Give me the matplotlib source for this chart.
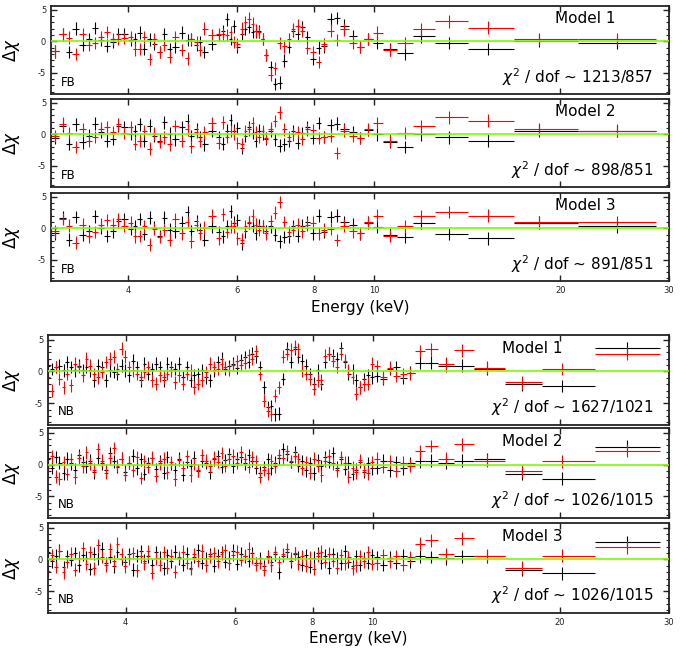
import numpy as np
import matplotlib
matplotlib.use('Agg')
import matplotlib.pyplot as plt
from matplotlib.ticker import MultipleLocator, NullLocator

plt.rcParams['axes.unicode_minus'] = False
plt.rcParams['font.family'] = 'DejaVu Sans'

# ---- FB spectra: bin centres (keV) and residuals (sigma) ----
fb_energy = [3.04, 3.14, 3.21, 3.29, 3.38, 3.46, 3.53, 3.62, 3.70, 3.78, 3.85, 3.94, 4.04, 4.10, 4.18,
             4.25, 4.34, 4.41, 4.50, 4.57, 4.67, 4.76, 4.89, 4.99, 5.06, 5.16, 5.22, 5.30, 5.46,
             5.62, 5.70, 5.77, 5.86, 5.93, 6.01, 6.11, 6.19, 6.28, 6.36, 6.44, 6.51, 6.60, 6.69, 6.80,
             6.92, 7.03, 7.15, 7.28, 7.39, 7.52, 7.65, 7.80, 7.96, 8.13, 8.30, 8.51, 8.70, 8.94, 9.24,
             9.49, 9.78, 10.10,
             10.6, 11.2, 11.9, 13.2, 15.3, 18.5, 24.7]

fb_m1_black = [-1.6, 1.1, -1.7, 2.0, -0.6, 0.4, 2.1, 0.2, -0.7, -0.1, 1.2, 1.2, 0.2, 0.3, 1.4,
               -1.2, 0.3, -0.4, -1.7, 1.1, -1.2, -0.9, 1.4, 0.2, 0.3, -0.6, -0.1, -1.7, -0.4,
               1.0, 1.6, 3.5, 0.4, 2.4, -0.9, 1.2, 2.0, 2.3, 1.5, 1.6, 1.6, 0.4, -2.2, -4.1,
               -6.8, -6.6, -3.1, -0.9, 1.7, 1.2, 2.3, 0.7, -2.8, -1.0, -0.8, 3.5, 3.7, 2.5, 0.8,
               -0.9, 0.4, -0.2,
               -1.3, -1.9, 0.8, -0.3, -1.2, 0.1, -0.2]
fb_m1_red = [-1.6, 1.1, 0.6, -2.0, 1.2, -0.6, -0.3, 0.7, 1.5, 0.4, 0.4, 0.5, 0.7, -1.3, -1.2,
             0.7, -2.8, 0.3, -1.7, -0.6, -2.5, 0.7, -1.4, -2.7, 0.4, -0.1, -1.4, 2.0, 1.0,
             1.2, 1.1, 1.0, 1.5, -0.1, -0.4, 2.0, 3.1, 3.6, 2.8, 1.7, 1.5, 0.4, -2.2, -5.4,
             -4.3, -0.3, -0.8, 0.3, 1.9, 2.5, 1.7, -1.1, -1.7, -3.3, -0.5, 1.7, 0.2, 1.9, -0.2,
             -0.9, 0.4, 1.4,
             -1.4, -0.3, 1.9, 3.2, 2.2, 0.4, 0.4]

fb_m2_black = [-0.6, 1.4, -1.5, 1.6, -1.3, -0.2, 1.7, 0.4, -1.0, -0.7, 1.3, 1.2, 0.1, 0.5, 1.6,
               -1.1, 1.4, -0.2, -1.0, 1.9, 0.1, -0.8, 1.1, 2.2, -0.3, 0.8, -0.5, -1.6, 0.5,
               -0.4, -1.5, 0.6, 2.3, 0.6, 1.0, -2.2, -0.3, 1.2, 0.2, -1.0, 0.6, 0.1, -0.7, 0.5,
               -0.8, -1.8, -1.6, -1.1, 0.5, -1.4, 0.2, 1.2, -0.6, 1.8, -0.4, 1.5, 1.7, 0.8, 0.4,
               -0.6, 0.7, 0.0,
               -1.2, -2.0, 0.0, -0.5, -1.0, 0.6, 0.5]
fb_m2_red = [-0.3, 1.7, 0.2, -2.0, 0.8, -1.1, -0.4, 0.9, 1.1, 0.4, 1.6, 0.2, 1.1, -1.5, -1.0,
             0.5, -2.3, 0.1, -1.2, -0.5, -1.6, 1.3, -1.0, 0.8, -1.9, 0.4, -1.0, 0.3, 1.8,
             -1.4, 1.9, -0.4, 0.5, 0.1, -1.4, -1.6, 0.5, 0.8, 1.8, 0.4, -0.4, 0.5, -0.6, 0.9,
             2.1, 3.5, 0.8, -0.4, 0.0, 0.4, -0.7, 0.8, 0.7, -0.6, -0.4, -0.3, -3.0, 0.6, -0.3,
             -0.6, 0.8, 1.8,
             -1.0, 0.2, 1.3, 2.7, 2.2, 0.8, 0.6]

fb_m3_black = [-0.8, 1.7, -1.8, 1.8, -1.0, -0.5, 1.9, 0.1, -1.2, -0.5, 1.1, 1.5, -0.1, 0.3, 1.5,
               -0.9, 1.7, 0.1, -1.2, 1.7, -0.2, -0.5, 0.9, 2.6, -0.5, 1.1, -0.2, -1.8, 0.3,
               -0.6, -1.3, 0.3, 2.7, 0.9, 1.3, -2.4, -0.5, 0.9, 0.4, -0.8, 0.4, 0.3, -0.5, 0.3,
               -1.0, -2.1, -1.4, -1.3, 0.3, -1.2, 0.4, 1.0, -0.8, 2.0, -0.6, 1.8, 2.0, 1.0, 0.6,
               -0.8, 0.9, 0.2,
               -1.0, -1.4, 0.9, -0.9, -1.6, 0.9, 0.3]
fb_m3_red = [-0.5, 1.5, 0.4, -2.3, 0.6, -1.3, -0.6, 0.6, 1.3, 0.6, 1.4, 0.4, 0.9, -1.3, -1.2,
             0.3, -2.6, -0.1, -1.4, -0.3, -1.8, 1.5, -0.8, 1.0, -2.1, 0.6, -0.8, 0.1, 2.0,
             -1.6, 2.2, -0.6, 0.3, 0.3, -1.6, -1.8, 0.3, 1.0, 2.0, 0.6, -0.2, 0.3, -0.8, 1.1,
             2.5, 4.2, 1.0, -0.6, -0.2, 0.6, -0.5, 0.6, 0.9, -0.8, -0.2, -0.1, -1.9, 0.4, -0.5,
             -0.8, 1.0, 2.0,
             -1.2, 0.3, 1.9, 2.6, 2.0, 1.0, 1.0]

# ---- NB spectra ----
nb_energy = [3.00, 3.04, 3.09, 3.13, 3.18, 3.22, 3.27, 3.32, 3.36, 3.41, 3.46, 3.51, 3.56, 3.61,
             3.66, 3.72, 3.77, 3.83, 3.88, 3.94, 3.99, 4.05, 4.11, 4.17, 4.23, 4.29, 4.35, 4.41,
             4.48, 4.54, 4.61, 4.67, 4.74, 4.81, 4.88, 4.95, 5.02, 5.09, 5.16, 5.24, 5.31, 5.39,
             5.47, 5.55, 5.63, 5.71, 5.79, 5.87, 5.96, 6.04, 6.13, 6.22, 6.31, 6.40, 6.49, 6.58,
             6.68, 6.77, 6.87, 6.97, 7.07, 7.17, 7.28, 7.38, 7.49, 7.59, 7.70, 7.81, 7.93, 8.04,
             8.16, 8.27, 8.39, 8.51, 8.64, 8.76, 8.89, 9.01, 9.14, 9.28, 9.41, 9.55, 9.68, 9.82,
             9.97,
             10.15, 10.4, 10.65, 10.9, 11.2, 11.5, 11.9, 12.4, 13.1, 13.9, 15.3, 17.4, 20.2, 25.7]

nb_m1_black = [0.9, 0.4, 0.7, 0.9, 0.2, 1.5, 0.7, 0.2, 0.9, 0.2,
               0.7, 0.2, -1.4, 0.9, 0.7, -1.4, 0.2, -0.1, -0.4, 0.9,
               0.2, -0.6, 1.7, 0.7, -1.4, 1.2, -0.4, 0.4, 1.2, 0.7,
               -1.4, 1.2, 0.7, 0.4, 1.2, -0.9, 0.7, -1.4, -0.6, -0.4,
               0.2, -0.9, -1.4, 0.2, 1.5, 2.0, 0.4, 0.8, 1.2, 0.6,
               1.8, 2.2, 1.5, 2.8, 2.4,
               0.7, -2.5, -5.6, -5.4, -6.7, -6.6, -1.2, 3.6, 1.5, 3.6,
               2.3, 1.7, 0.9, -0.4, -1.9, 0.2, -1.9, 1.5, 2.8, 2.5,
               2.0, 3.7, 1.5, -0.4, 0.2, -1.4, -2.5, -1.2, -0.6, -0.9,
               -0.7, -1.2, 0.4, 0.7, -1.0, -0.2, 1.4, 1.4, 0.9, 0.9, 0.4, -2.0, -2.3, 3.7]
nb_m1_red = [-0.9, -3.0, 0.7, -1.2, -2.5, -0.4, -2.2, 1.2, 0.7, -0.6,
             2.0, 0.9, -0.4, -0.9, -0.1, 1.5, 2.0, 2.3, 0.4, 3.6,
             2.3, 0.7, 0.2, -0.4, -0.9, -0.1, 0.7, -1.4, -1.9, -0.6,
             -0.9, -0.4, 0.2, -1.7, -0.6, -1.9, -0.4, 0.2, -2.5, -1.9,
             -1.4, -0.1, 1.2, 0.7, 0.4, 1.2, 0.7, 0.3, 1.0, 1.6,
             1.0, 1.4, 2.6, 2.0, 3.2,
             -0.4, -4.6, -6.2, -6.7, -3.8, -2.5, 2.3, 2.8, 3.4, 3.9,
             3.5, 0.2, -0.4, -1.2, -2.7, -1.4, -1.4, 2.5, 2.8, 1.7,
             0.7, 2.8, 1.7, 0.2, -0.9, -3.5, -2.5, -2.0, -1.9, 1.2,
             0.8, -0.9, 0.6, -0.7, -0.4, -0.3, 3.2, 3.5, 1.2, 3.3, 0.6, -1.7, 0.4, 2.8]

nb_m2_black = [0.8, -0.5, 1.2, 0.3, -1.4, 0.9, 0.2, -0.8, 1.5, 0.4, -0.3,
               0.6, -1.2, 1.1, 0.2, -0.9, 1.8, 0.5, -0.4, 0.9, -1.1, 0.3,
               1.4, -0.6, 0.8, -1.5, 0.2, 1.0, -0.7, 0.5, -1.3, 1.2, 0.1,
               -0.8, 0.9, -1.6, 0.4, -0.2, 1.1, -1.0, 0.6, 0.3, -1.2, 0.8,
               1.3, -0.4, 0.7, 1.6, -0.3, 0.9, 1.2, 0.2, 1.5, 0.6, -0.5,
               -1.3, -0.4, 0.8, -0.6, 0.3, 1.0, 2.4, 1.6, 0.4, 1.9, -0.2,
               0.5, -0.9, 0.2, -1.4, 0.7, -0.3, 1.2, 0.4, 1.8, -0.5, 0.9,
               -0.7, 0.3, -1.5, -0.8, 0.4, -1.1, 0.2, -0.6,
               -0.5, 0.6, -0.9, 0.4, -0.6, 0.2, 0.5, 0.6, 0.3, 0.6, 0.8, -1.5, -2.2, 2.8]
nb_m2_red = [-0.6, 1.3, -1.9, -2.2, 0.4, -1.5, 0.8, -2.0, 1.1, -0.3, 1.9,
             0.2, -0.8, 2.4, 0.6, -1.3, 1.0, 2.6, -0.2, 0.9, -1.6, 0.3,
             -0.9, 1.2, -2.1, 0.5, -0.4, 1.1, -1.8, 0.2, 0.9, -1.2, 0.4,
             -2.3, 0.7, -0.5, 1.3, -1.7, 0.1, -0.9, 1.5, 0.6, -0.3, 1.1,
             0.4, 1.8, -0.2, 0.9, 1.4, 0.3, 1.9, 0.8, -0.4, 1.2, 0.5,
             -1.9, -0.8, -1.4, 0.6, -0.3, 1.5, 1.0, 2.1, 0.5, 1.3, 0.8,
             -0.6, 0.4, -1.3, 0.9, -0.2, -1.7, 0.6, 1.4, 0.2, -0.9, 1.2,
             0.3, -1.9, -0.5, -1.2, 0.7, -0.8, -1.4, 0.4,
             0.9, -0.4, 0.5, -1.0, 0.3, -0.2, 2.1, 2.9, 0.9, 3.2, 0.6, -1.0, 0.5, 2.2]

nb_m3_black = [1.1, -0.3, 0.6, 1.4, -1.2, 0.5, -0.1, 1.0, -0.9, 0.7, 0.3,
               -1.5, 0.9, 0.2, 1.7, -0.6, 0.4, -1.1, 1.2, 0.1, -0.4, 0.8,
               -1.6, 0.6, 1.3, -0.2, 0.5, -0.9, 1.1, 0.3, -1.4, 0.7, -0.3,
               1.2, 0.2, -0.8, 0.9, -1.3, 0.4, 1.5, -0.5, 0.2, 0.8, -1.0,
               0.6, 1.1, -0.4, 0.3, 1.4, -0.7, 0.9, 0.5, -0.2, 1.0, -0.6,
               0.2, -1.1, 0.5, -0.4, 0.8, -2.0, 0.6, 1.2, -0.3, 0.9, 0.4,
               -0.8, 0.7, -1.2, 0.3, 1.0, -0.5, 0.6, -1.3, 0.8, 0.2, -0.6,
               1.3, -0.4, -1.1, 0.5, -0.8, 0.2, -0.5, 0.7,
               0.4, -0.8, 0.3, -0.5, 0.6, -0.3, 0.5, 0.4, 0.2, 0.5, 0.5, -1.6, -2.2, 2.7]
nb_m3_red = [-1.8, 0.7, -1.2, 1.3, -2.0, -0.4, 0.9, -1.6, 0.3, 1.8, -0.7,
             1.1, -1.4, 2.2, 0.4, -0.9, 1.6, -0.3, 2.5, 0.8, -1.1, 0.2,
             1.0, -1.7, 0.5, -0.6, 1.3, -2.1, 0.2, -0.8, 1.1, -1.3, 0.6,
             -1.9, 0.4, 1.2, -0.5, -1.5, 0.8, -0.2, 1.4, -0.9, 0.5, 1.0,
             -0.3, 0.9, 1.5, -0.6, 0.7, 1.2, -0.1, 0.6, 1.7, 0.3, -0.8,
             -0.5, -1.6, 0.4, -0.9, 1.1, -0.4, 0.8, 1.6, 0.2, 1.0, -0.7,
             0.5, -1.0, 0.3, -1.5, 0.6, 1.2, -0.4, 0.9, -0.2, -1.3, 0.7,
             -0.6, 0.4, -1.4, -0.9, 0.5, -0.3, 1.1, -0.7,
             -0.6, 0.7, -0.3, 0.5, -0.8, 0.4, 2.5, 3.0, 0.8, 3.3, 0.6, -1.3, 0.6, 1.9]

fb_chi = ['1213/857', '898/851', '891/851']
nb_chi = ['1627/1021', '1026/1015', '1026/1015']
xtick_vals = [4, 6, 8, 10, 20, 30]


def half_bins(e):
    # bin half widths from geometric mid points between neighbouring bins
    e = np.asarray(e, dtype=float)
    mid = np.sqrt(e[:-1] * e[1:])
    lo = np.concatenate([[e[0] ** 2 / mid[0]], mid])
    hi = np.concatenate([mid, [e[-1] ** 2 / mid[-1]]])
    return np.vstack([e - lo, hi - e])


def panel(fig, rect, energy, black, red, model, chi, tag, tag_y, model_x, chi_y, bottom):
    ax = fig.add_axes(rect)
    xerr = half_bins(energy)
    ax.errorbar(energy, black, yerr=1, xerr=xerr, fmt='none', ecolor='black', elinewidth=0.8)
    ax.errorbar(energy, red, yerr=1, xerr=xerr, fmt='none', ecolor='red', elinewidth=0.8)
    ax.axhline(0, color='#7cfc00', lw=1.2, zorder=5)

    ax.set_xscale('log')
    ax.set(xlim=(3, 30), ylim=(-8.4, 5.7))
    ax.set_xticks(xtick_vals)
    ax.xaxis.set_minor_locator(NullLocator())
    ax.set_yticks([-5, 0, 5])
    ax.yaxis.set_minor_locator(MultipleLocator(1))
    ax.set_yticklabels(['-5', '0', '5'])
    ax.tick_params(which='both', direction='in', top=True, right=True, labelsize=6, colors='#222222')
    ax.tick_params(which='major', length=4, width=1)
    ax.tick_params(which='minor', length=2, width=0.8)
    for s in ax.spines.values():
        s.set_linewidth(1.3)
        s.set_color('#222222')
    if bottom:
        ax.set_xticklabels([str(v) for v in xtick_vals])
        ax.set_xlabel('Energy (keV)', fontsize=11)
    else:
        ax.set_xticklabels([])

    ax.set_ylabel(r'$\Delta\chi$', fontsize=12)
    ax.text(model_x, 0.85, model, transform=ax.transAxes, fontsize=11, ha='center', va='center')
    ax.text(0.975, chi_y, r'$\chi^2$ / dof ~ ' + chi, transform=ax.transAxes, fontsize=11,
            ha='right', va='center')
    ax.text(0.016, tag_y, tag, transform=ax.transAxes, fontsize=8.5, ha='left', va='center')
    return ax


fig = plt.figure(figsize=(6.94, 6.53), dpi=100)

fb_sets = [(fb_m1_black, fb_m1_red), (fb_m2_black, fb_m2_red), (fb_m3_black, fb_m3_red)]
nb_sets = [(nb_m1_black, nb_m1_red), (nb_m2_black, nb_m2_red), (nb_m3_black, nb_m3_red)]
fb_bottoms = [0.856, 0.7136, 0.5697]
nb_bottoms = [0.3492, 0.2067, 0.0613]

for i in range(3):
    ax = panel(fig, [0.0735, fb_bottoms[i], 0.8905, 0.1355], fb_energy, fb_sets[i][0], fb_sets[i][1],
               'Model %d' % (i + 1), fb_chi[i], 'FB', 0.135, 0.864, 0.19, i == 2)
    ax.yaxis.set_label_coords(-0.047, 0.5)
    if i == 2:
        ax.xaxis.set_label_coords(0.5, -0.22)

for i in range(3):
    ax = panel(fig, [0.0692, nb_bottoms[i], 0.8948, 0.1375], nb_energy, nb_sets[i][0], nb_sets[i][1],
               'Model %d' % (i + 1), nb_chi[i], 'NB', 0.155, 0.78, 0.2, i == 2)
    ax.yaxis.set_label_coords(-0.042, 0.5)
    if i == 2:
        ax.xaxis.set_label_coords(0.5, -0.2)

plt.savefig('out.png', dpi=100)
